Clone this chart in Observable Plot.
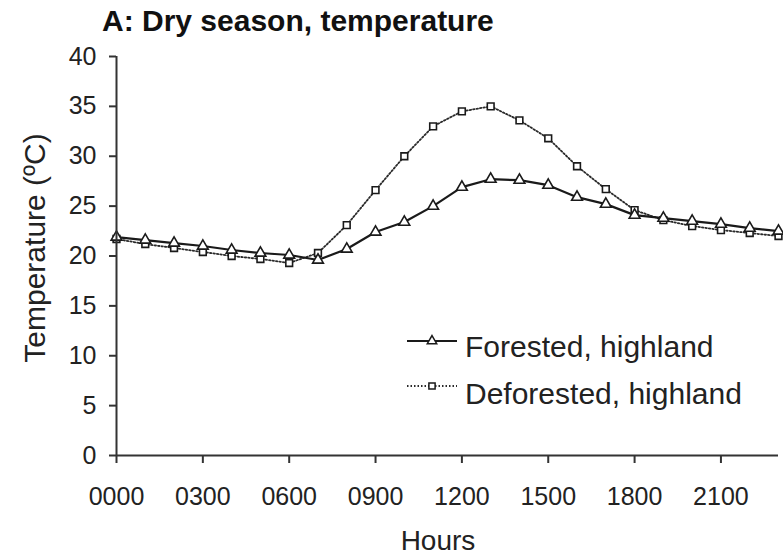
<!DOCTYPE html>
<html>
<head>
<meta charset="utf-8">
<script src="https://cdn.jsdelivr.net/npm/d3@7"></script>
<script src="https://cdn.jsdelivr.net/npm/@observablehq/plot@0.6"></script>
<style>
  body { margin: 0; background: #fff; }
  #chart { width: 783px; height: 555px; }
  text { font-family: "Liberation Sans", Arial, sans-serif; }
</style>
</head>
<body>
<div id="chart"></div>
<script>
// ---- data ----
const hours = [0, 1, 2, 3, 4, 5, 6, 7, 8, 9, 10, 11, 12, 13, 14, 15, 16, 17, 18, 19, 20, 21, 22, 23];
const forested = [21.9, 21.6, 21.3, 21.0, 20.6, 20.3, 20.1, 19.6, 20.7, 22.4, 23.4, 25.0, 26.9, 27.7, 27.6, 27.1, 25.9, 25.2, 24.1, 23.8, 23.5, 23.2, 22.8, 22.5];
const deforested = [21.7, 21.2, 20.8, 20.4, 20.0, 19.7, 19.3, 20.3, 23.1, 26.6, 30.0, 33.0, 34.5, 35.0, 33.6, 31.8, 29.0, 26.7, 24.6, 23.6, 23.0, 22.6, 22.3, 22.0];
const seriesNames = ["Forested, highland", "Deforested, highland"];
const yTicks = [0, 5, 10, 15, 20, 25, 30, 35, 40];
const xTicks = [0, 3, 6, 9, 12, 15, 18, 21];
const xTickLabels = ["0000", "0300", "0600", "0900", "1200", "1500", "1800", "2100"];
const titleText = "A: Dry season, temperature";
const xLabel = "Hours";
const yLabel = "Temperature (ºC)";

// ---- tables ----
const forestedRows = hours.map((h, i) => ({ h, t: forested[i] }));
const deforestedRows = hours.map((h, i) => ({ h, t: deforested[i] }));

const ink = "#1a1a1a";
const axisInk = "#333";
const dotDash = "1.5,2";

const chart = Plot.plot({
  width: 783,
  height: 555,
  marginTop: 56,
  marginBottom: 100,
  marginLeft: 116,
  marginRight: 5,
  style: { fontFamily: "Liberation Sans, Arial, sans-serif", fontSize: "25px", color: "#222", background: "white" },
  x: { domain: [0, 23] },
  y: { domain: [0, 40] },
  marks: [
    Plot.line(deforestedRows, { x: "h", y: "t", stroke: "#2a2a2a", strokeWidth: 1.8, strokeDasharray: dotDash }),
    Plot.line(forestedRows, { x: "h", y: "t", stroke: ink, strokeWidth: 2.2 }),
    Plot.dot(deforestedRows, { x: "h", y: "t", symbol: "square", r: 3.8, fill: "white", stroke: ink, strokeWidth: 1.6 }),
    Plot.dot(forestedRows, { x: "h", y: "t", symbol: "triangle", r: 4, fill: "white", stroke: ink, strokeWidth: 1.6 }),
    Plot.axisY({ ticks: yTicks, tickSize: 7, tickPadding: 13, label: null, stroke: axisInk, strokeWidth: 2, fill: "#222" }),
    Plot.axisX({ ticks: xTicks, tickFormat: d => xTickLabels[xTicks.indexOf(d)], tickSize: 8, tickPadding: 24, label: null, stroke: axisInk, strokeWidth: 2, fill: "#222" }),
    Plot.ruleX([0], { stroke: axisInk, strokeWidth: 2 }),
    Plot.ruleY([0], { stroke: axisInk, strokeWidth: 2 })
  ]
});

document.getElementById("chart").appendChild(chart);

// ---- titles, axis labels and legend (text overlays) ----
const svg = d3.select(chart);

svg.append("text")
  .attr("x", 102).attr("y", 31)
  .attr("text-anchor", "start")
  .attr("font-size", 30).attr("font-weight", "bold").attr("fill", "#111")
  .text(titleText);

svg.append("text")
  .attr("x", 438).attr("y", 550)
  .attr("text-anchor", "middle")
  .attr("font-size", 28).attr("fill", "#222")
  .text(xLabel);

svg.append("text")
  .attr("transform", "translate(45,248) rotate(-90)")
  .attr("text-anchor", "middle")
  .attr("font-size", 30).attr("fill", "#222")
  .text(yLabel);

const legend = svg.append("g");
const legendRows = [
  { name: seriesNames[0], lineY: 341, baseY: 357, dash: null, width: 2.2, symbol: d3.symbolTriangle },
  { name: seriesNames[1], lineY: 386, baseY: 404, dash: dotDash, width: 1.8, symbol: d3.symbolSquare }
];
legendRows.forEach(r => {
  legend.append("line")
    .attr("x1", 407).attr("x2", 457).attr("y1", r.lineY).attr("y2", r.lineY)
    .attr("stroke", r.dash ? "#2a2a2a" : ink).attr("stroke-width", r.width)
    .attr("stroke-dasharray", r.dash);
  legend.append("path")
    .attr("transform", `translate(432,${r.lineY})`)
    .attr("d", d3.symbol(r.symbol, Math.PI * 3.5 * 3.5)())
    .attr("fill", "white").attr("stroke", ink).attr("stroke-width", 1.5);
  legend.append("text")
    .attr("x", 465).attr("y", r.baseY)
    .attr("text-anchor", "start")
    .attr("font-size", 30).attr("fill", "#222")
    .text(r.name);
});
</script>
</body>
</html>
